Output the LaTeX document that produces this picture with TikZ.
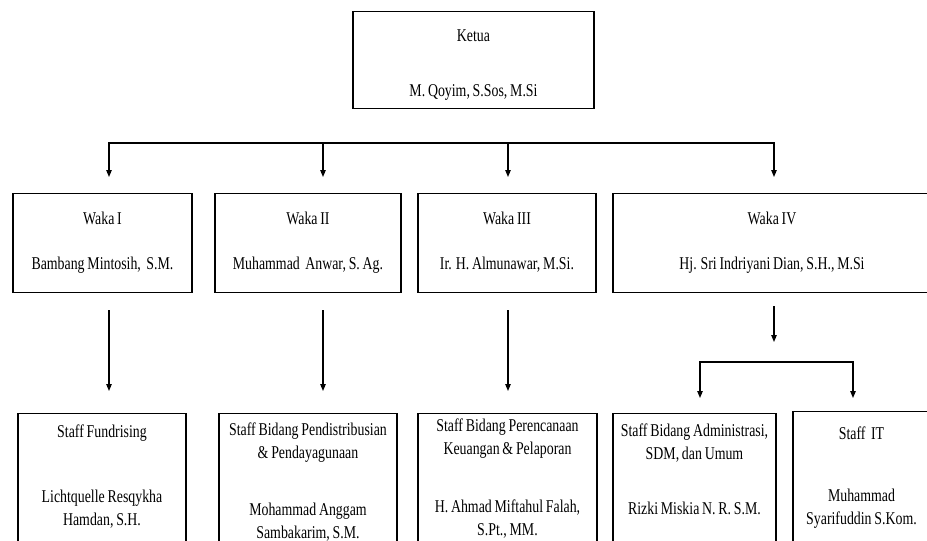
\documentclass[tikz,border=0pt]{standalone}
\usepackage{fontspec}
\setmainfont{Liberation Serif}[FakeStretch=0.77, WordSpace=0.8]
\usetikzlibrary{arrows.meta}
\tikzset{
  box/.style={draw, line width=1.1pt, anchor=north, align=flush center,
    inner xsep=0pt, inner ysep=0pt, font=\fontsize{18}{23}\selectfont},
  arr/.style={line width=1.1pt, -{Triangle[length=7pt,width=5.5pt]}},
  bus/.style={line width=2pt, line cap=rect}
}
\begin{document}
\begin{tikzpicture}[x=1pt, y=-1pt]
  \useasboundingbox (0,0) rectangle (927,541);
  \clip (0,0) rectangle (927,541);

  % Ketua
  \node[box, text width=241pt, text height=30pt, text depth=67pt] (ketua) at (473.5,11)
    {Ketua\\[32pt]M. Qoyim, S.Sos, M.Si};

  % Waka
  \node[box, text width=179pt, text height=31pt, text depth=68pt] (waka1) at (102.5,193)
    {Waka I\\[22pt]Bambang Mintosih,\ \ S.M.};
  \node[box, text width=186pt, text height=31pt, text depth=68pt] (waka2) at (308,193)
    {Waka II\\[22pt]Muhammad\ \ Anwar, S. Ag.};
  \node[box, text width=178pt, text height=31pt, text depth=68pt] (waka3) at (507,193)
    {Waka III\\[22pt]Ir. H. Almunawar, M.Si.};
  \node[box, text width=318pt, text height=31pt, text depth=68pt] (waka4) at (772,193)
    {Waka IV\\[22pt]Hj. Sri Indriyani Dian, S.H., M.Si};

  % Staff
  \node[box, text width=168pt, text height=24pt, text depth=150pt] (fund) at (102,413)
    {Staff Fundrising\\[42pt]Lichtquelle Resqykha\\Hamdan, S.H.};
  \node[box, text width=178pt, text height=22pt, text depth=150pt] (dist) at (308,413)
    {Staff Bidang Pendistribusian\\\& Pendayagunaan\\[34pt]Mohammad Anggam\\Sambakarim, S.M.};
  \node[box, text width=179pt, text height=18pt, text depth=150pt] (renc) at (507.5,413)
    {Staff Bidang Perencanaan\\Keuangan \& Pelaporan\\[35pt]H. Ahmad Miftahul Falah,\\S.Pt., MM.};
  \node[box, text width=163pt, text height=23pt, text depth=150pt] (admin) at (694.5,413)
    {Staff Bidang Administrasi,\\SDM, dan Umum\\[32pt]Rizki Miskia N. R. S.M.};
  \node[box, text width=137pt, text height=28pt, text depth=150pt] (it) at (861.5,411)
    {Staff\ \ IT\\[39pt]Muhammad\\Syarifuddin S.Kom.};

  % connectors
  \coordinate (c1) at (109,143);
  \coordinate (c2) at (323,143);
  \coordinate (c3) at (508,143);
  \coordinate (c4) at (774,143);
  \draw[bus] (c1) -- (c4);
  \foreach \i in {1,...,4}
    \draw[arr, shorten >=16pt] (c\i) -- (c\i |- waka\i.north);

  \draw[arr, shorten <=17pt, shorten >=22pt] (c1 |- waka1.south) -- (c1 |- fund.north);
  \draw[arr, shorten <=17pt, shorten >=22pt] (c2 |- waka2.south) -- (c2 |- dist.north);
  \draw[arr, shorten <=17pt, shorten >=22pt] (c3 |- waka3.south) -- (c3 |- renc.north);

  \coordinate (split) at (774,362);
  \coordinate (s1) at (700,362);
  \coordinate (s2) at (853,362);
  \draw[arr, shorten <=13pt, shorten >=20pt] (c4 |- waka4.south) -- (split);
  \draw[bus] (s1) -- (s2);
  \draw[arr, shorten >=15pt] (s1) -- (s1 |- admin.north);
  \draw[arr, shorten >=13pt] (s2) -- (s2 |- it.north);
\end{tikzpicture}
\end{document}
